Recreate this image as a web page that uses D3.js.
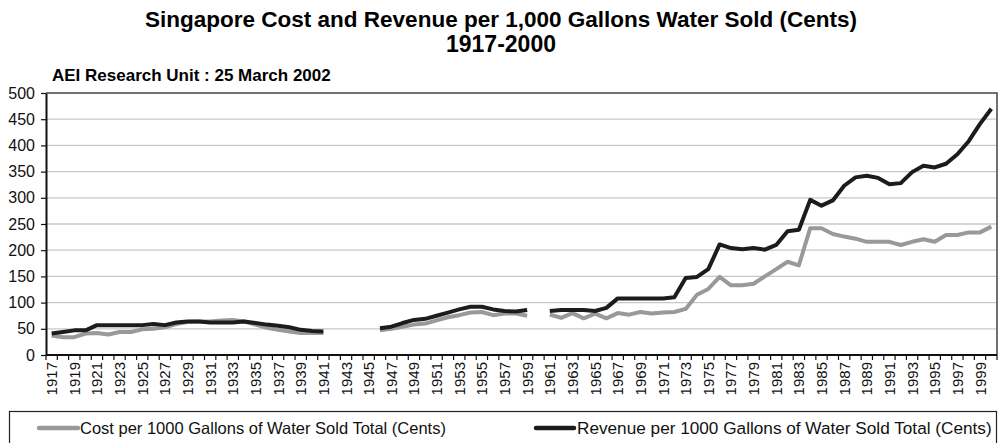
<!DOCTYPE html>
<html lang="en">
<head>
<meta charset="utf-8">
<script src="https://d3js.org/d3.v7.min.js"></script>
<style>
  body { margin: 0; background: #fff; }
  text { font-family: "Liberation Sans", Arial, sans-serif; }
</style>
</head>
<body>
<script>
// years on the x axis, 1917-2000
var years = d3.range(1917, 2001);

// cost per 1000 gallons (grey line), null = no data
var cost = [
  37, 34, 34, 41, 42, 39, 44, 44, 49, 50,        // 1917-1926
  53, 59, 63, 64, 64, 66, 67, 64, 58, 52,        // 1927-1936
  48, 45, 42, 42, 42, null, null, null, null, 47, // 1937-1946
  50, 54, 58, 60, 66, 72, 76, 81, 82, 76,        // 1947-1956
  79, 79, 75, null, 77, 71, 80, 70, 79, 70,      // 1957-1966
  80, 77, 82, 79, 81, 82, 88, 115, 126, 149,     // 1967-1976
  133, 133, 136, 150, 164, 178, 171, 242, 242, 231, // 1977-1986
  226, 222, 216, 216, 216, 210, 216, 221, 216, 229, // 1987-1996
  229, 234, 234, 245                             // 1997-2000
];

// revenue per 1000 gallons (black line)
var revenue = [
  41, 44, 47, 47, 57, 57, 57, 57, 57, 59,
  57, 62, 64, 64, 62, 62, 62, 64, 61, 58,
  56, 53, 48, 46, 45, null, null, null, null, 51,
  54, 61, 67, 69, 75, 81, 87, 92, 92, 87,
  84, 83, 86, null, 84, 86, 86, 86, 84, 90,
  108, 108, 108, 108, 108, 110, 147, 149, 164, 211,
  204, 202, 204, 201, 210, 236, 239, 296, 285, 295,
  323, 339, 342, 338, 326, 328, 349, 361, 358, 365,
  383, 408, 441, 470
];

var yTicks = d3.range(0, 501, 50);
var xLabelYears = years.filter(function (y) { return (y - 1917) % 2 == 0; });

var seriesNames = [
  "Cost per 1000 Gallons of Water Sold Total (Cents)",
  "Revenue per 1000 Gallons of Water Sold Total (Cents)"
];
var seriesColors = ["#999999", "#1c1c1c"];

var width = 1002, height = 443;
var plotLeft = 46, plotRight = 997, plotTop = 93, plotBottom = 355;

var svg = d3.select("body").append("svg")
  .attr("width", width)
  .attr("height", height);

// titles
svg.append("text")
  .attr("x", 501).attr("y", 27)
  .attr("text-anchor", "middle")
  .style("font-size", "22.5px").style("font-weight", "bold")
  .text("Singapore Cost and Revenue per 1,000 Gallons Water Sold (Cents)");
svg.append("text")
  .attr("x", 501).attr("y", 52)
  .attr("text-anchor", "middle")
  .style("font-size", "23px").style("font-weight", "bold")
  .text("1917-2000");
svg.append("text")
  .attr("x", 52).attr("y", 81)
  .style("font-size", "17px").style("font-weight", "bold")
  .text("AEI Research Unit : 25 March 2002");

var x = d3.scaleBand().domain(years).range([plotLeft, plotRight]).padding(0);
var y = d3.scaleLinear().domain([0, 500]).range([plotBottom, plotTop]);
var cx = function (yr) { return x(yr) + x.bandwidth() / 2; };

// grid lines
svg.append("g")
  .selectAll("line")
  .data(yTicks.filter(function (d) { return d > 0 && d < 500; }))
  .enter().append("line")
  .attr("x1", plotLeft).attr("x2", plotRight)
  .attr("y1", function (d) { return y(d); })
  .attr("y2", function (d) { return y(d); })
  .attr("stroke", "#c8c8c8").attr("stroke-width", 1.3);

// plot frame (top + right)
svg.append("path")
  .attr("d", "M" + plotLeft + "," + y(500) + "H" + plotRight + "V" + y(0))
  .attr("fill", "none").attr("stroke", "#444").attr("stroke-width", 1.5);

// y axis
var yAxis = svg.append("g")
  .attr("transform", "translate(" + plotLeft + ",0)")
  .call(d3.axisLeft(y).tickValues(yTicks).tickSize(5).tickPadding(6).tickSizeOuter(0));
yAxis.select(".domain").attr("stroke", "#111").attr("stroke-width", 2);
yAxis.selectAll(".tick line").attr("stroke", "#111").attr("stroke-width", 1.2);
yAxis.selectAll("text").style("font-size", "16px").attr("fill", "#111")
  .style("font-family", "'Liberation Sans', Arial, sans-serif");

// x axis baseline and ticks at band edges
svg.append("line")
  .attr("x1", plotLeft).attr("x2", plotRight)
  .attr("y1", y(0)).attr("y2", y(0))
  .attr("stroke", "#111").attr("stroke-width", 2.2);
var edges = years.map(function (yr) { return x(yr); }).concat([plotRight]);
svg.append("g")
  .selectAll("line")
  .data(edges)
  .enter().append("line")
  .attr("x1", function (d) { return d; }).attr("x2", function (d) { return d; })
  .attr("y1", y(0)).attr("y2", y(0) + 5)
  .attr("stroke", "#111").attr("stroke-width", 1.2);

svg.append("g")
  .selectAll("text")
  .data(xLabelYears)
  .enter().append("text")
  .attr("transform", function (d) {
    return "translate(" + (cx(d) + 5.5) + "," + (y(0) + 7) + ") rotate(-90)";
  })
  .attr("text-anchor", "end")
  .style("font-size", "15px")
  .attr("fill", "#111")
  .text(function (d) { return d; });

// lines
var line = d3.line()
  .defined(function (d) { return d.v != null; })
  .x(function (d) { return cx(d.year); })
  .y(function (d) { return y(d.v); });

[cost, revenue].forEach(function (vals, i) {
  var pts = years.map(function (yr, j) { return { year: yr, v: vals[j] }; });
  svg.append("path")
    .datum(pts)
    .attr("d", line)
    .attr("fill", "none")
    .attr("stroke", seriesColors[i])
    .attr("stroke-width", 4)
    .attr("stroke-linejoin", "round");
});

// legend
svg.append("rect")
  .attr("x", 9.5).attr("y", 411.5)
  .attr("width", 987).attr("height", 40)
  .attr("fill", "none").attr("stroke", "#222").attr("stroke-width", 1.2);

var legendX = [[39, 78, 80], [536, 574, 577]];
seriesNames.forEach(function (name, i) {
  svg.append("line")
    .attr("x1", legendX[i][0]).attr("x2", legendX[i][1])
    .attr("y1", 428).attr("y2", 428)
    .attr("stroke", seriesColors[i]).attr("stroke-width", 4.5)
    .attr("stroke-linecap", "round");
  svg.append("text")
    .attr("x", legendX[i][2]).attr("y", 434)
    .style("font-size", i == 0 ? "16.5px" : "17.2px")
    .attr("fill", "#111")
    .text(name);
});
</script>
</body>
</html>
